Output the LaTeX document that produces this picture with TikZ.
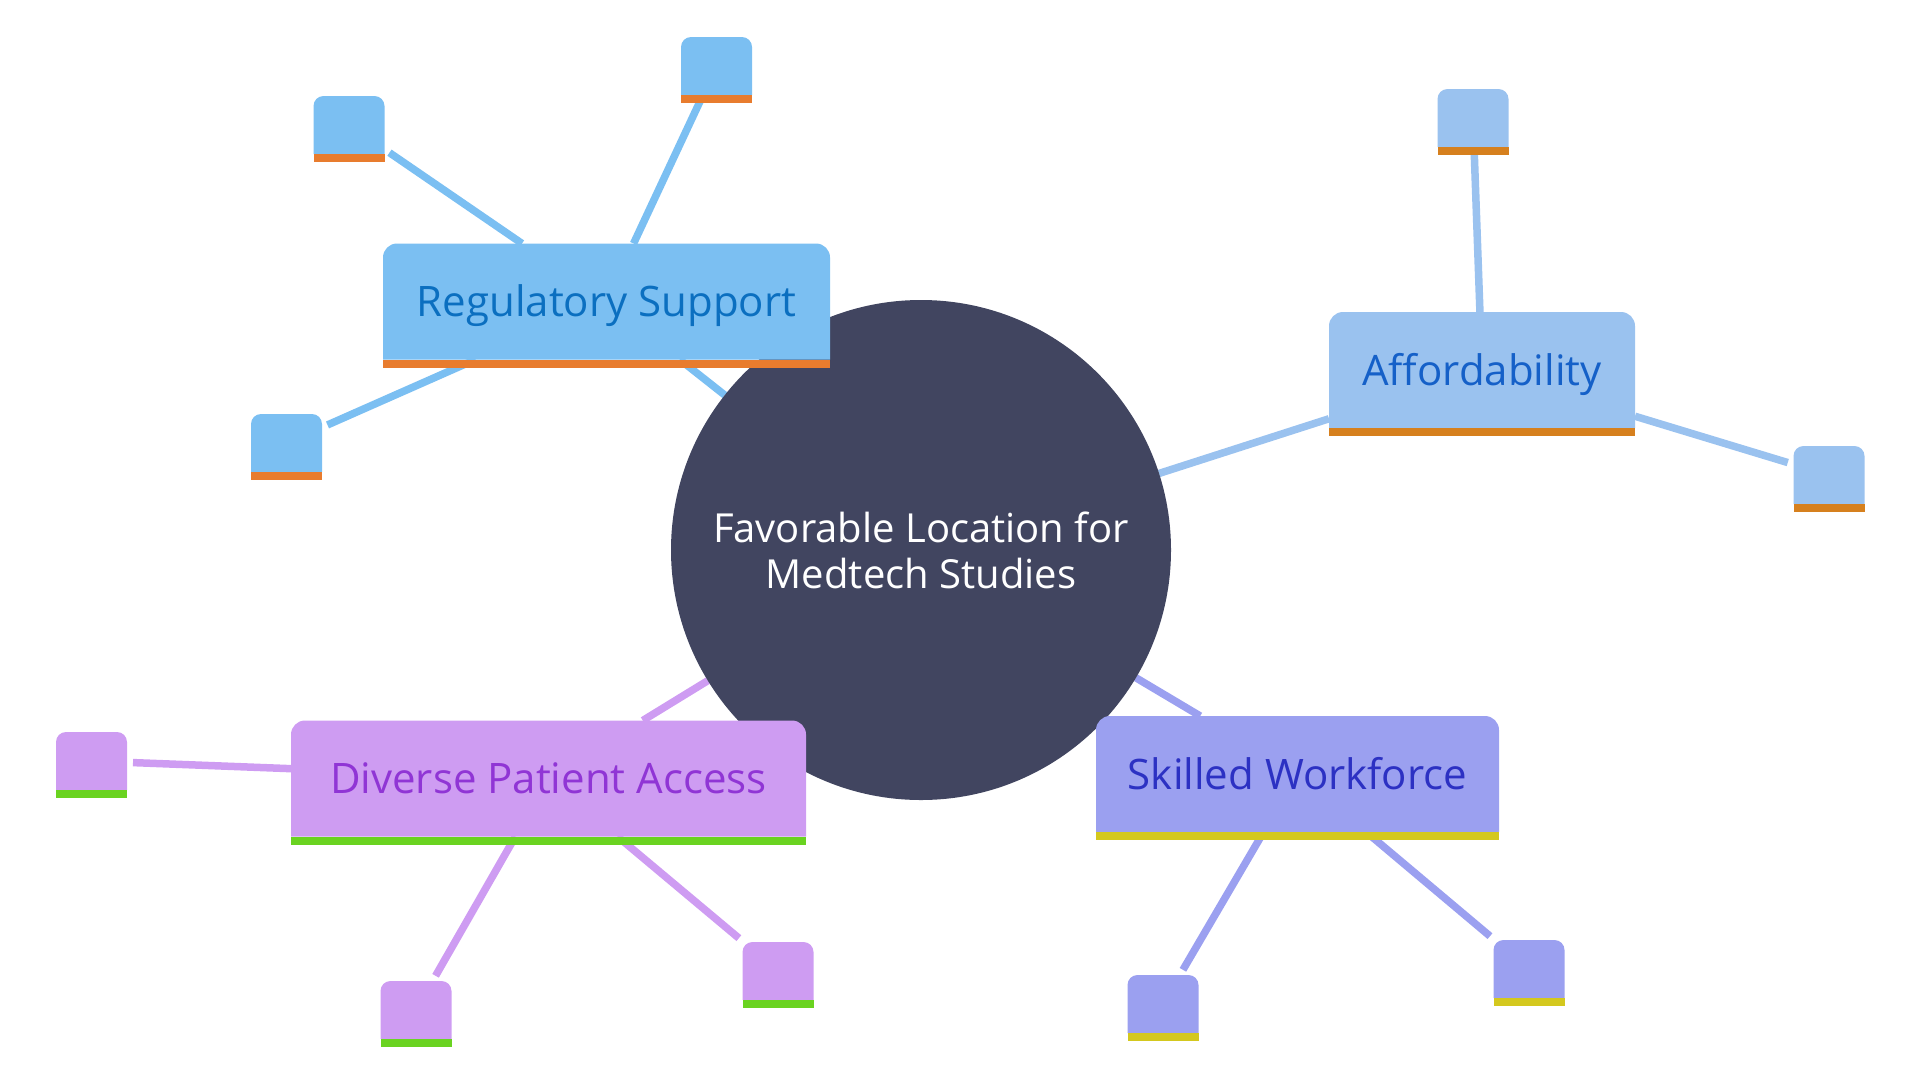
\documentclass[tikz,border=0pt]{standalone}
\usepackage{fontspec}
\setmainfont{Open Sans}
\usetikzlibrary{backgrounds}
\definecolor{hubslate}{HTML}{414560}
\definecolor{regfill}{HTML}{7BBFF2}
\definecolor{regbar}{HTML}{E87C2E}
\definecolor{regtext}{HTML}{0B6FC0}
\definecolor{afffill}{HTML}{9AC2EF}
\definecolor{affbar}{HTML}{D6801E}
\definecolor{afftext}{HTML}{1560C8}
\definecolor{divfill}{HTML}{CE9CF2}
\definecolor{divbar}{HTML}{6AD321}
\definecolor{divtext}{HTML}{9035D5}
\definecolor{skillfill}{HTML}{9BA0F0}
\definecolor{skillbar}{HTML}{D4C81E}
\definecolor{skilltext}{HTML}{2C31C3}
\tikzset{
  hubnode/.style={circle, minimum size=500pt, inner sep=0pt, outer sep=0pt, text=white, align=center, font=\fontsize{40}{46}\selectfont},
  branchbox/.style={rectangle, minimum height=116pt, inner sep=0pt, outer sep=0pt, text height=30pt, text depth=0pt, font=\fontsize{42}{48}\selectfont},
  leafbox/.style={rectangle, minimum width=71pt, minimum height=58pt, inner sep=0pt, outer sep=0pt},
  link/.style={line width=7.5pt},
  leaflink/.style={link, shorten >=6pt},
}
% tab shape: rounded top, square bottom, coloured strip below
\newcommand{\tabfill}[4]{%
  \fill[#2] (#1.south west) [rounded corners=#4] -- (#1.north west) -- (#1.north east) [sharp corners] -- (#1.south east) -- cycle;
  \fill[#3] (#1.south west) rectangle ([yshift=-8pt]#1.south east);
}
\begin{document}
\begin{tikzpicture}[x=1pt, y=-1pt]
  \useasboundingbox (0,0) rectangle (1920,1080);
  \node[hubnode] (hub) at (921,550) {Favorable Location for\\Medtech Studies};
  \node[branchbox, minimum width=447pt, text=regtext] (reg) at (606.5,301.5) {Regulatory Support};
  \node[branchbox, minimum width=306pt, text=afftext] (aff) at (1482,370) {Affordability};
  \node[branchbox, minimum width=515pt, text=divtext] (div) at (548.5,778.5) {Diverse Patient Access};
  \node[branchbox, minimum width=403pt, text=skilltext] (skill) at (1297.5,774) {Skilled Workforce};
  % leaves
  \node[leafbox] (reg1) at (716.5,66) {};
  \node[leafbox] (reg2) at (349,125) {};
  \node[leafbox] (reg3) at (286.5,443) {};
  \node[leafbox] (aff1) at (1473,118) {};
  \node[leafbox] (aff2) at (1829,475) {};
  \node[leafbox] (div1) at (91.5,761) {};
  \node[leafbox] (div2) at (416,1010) {};
  \node[leafbox] (div3) at (778,971) {};
  \node[leafbox] (skill1) at (1163,1004) {};
  \node[leafbox] (skill2) at (1529,969) {};
  \begin{scope}[on background layer]
    \foreach \br/\col in {reg/regfill, aff/afffill, div/divfill, skill/skillfill}
      \draw[link, \col] (hub) -- (\br);
    \foreach \br/\lf/\col in {reg/reg1/regfill, reg/reg2/regfill, reg/reg3/regfill,
        aff/aff1/afffill, aff/aff2/afffill,
        div/div1/divfill, div/div2/divfill, div/div3/divfill,
        skill/skill1/skillfill, skill/skill2/skillfill}
      \draw[leaflink, \col] (\br) -- (\lf);
    \fill[hubslate] (hub.center) circle (250pt);
    \foreach \n/\f/\b in {reg/regfill/regbar, aff/afffill/affbar, div/divfill/divbar, skill/skillfill/skillbar}
      \tabfill{\n}{\f}{\b}{14pt};
    \foreach \n/\f/\b in {reg1/regfill/regbar, reg2/regfill/regbar, reg3/regfill/regbar,
        aff1/afffill/affbar, aff2/afffill/affbar,
        div1/divfill/divbar, div2/divfill/divbar, div3/divfill/divbar,
        skill1/skillfill/skillbar, skill2/skillfill/skillbar}
      \tabfill{\n}{\f}{\b}{10pt};
  \end{scope}
\end{tikzpicture}
\end{document}
